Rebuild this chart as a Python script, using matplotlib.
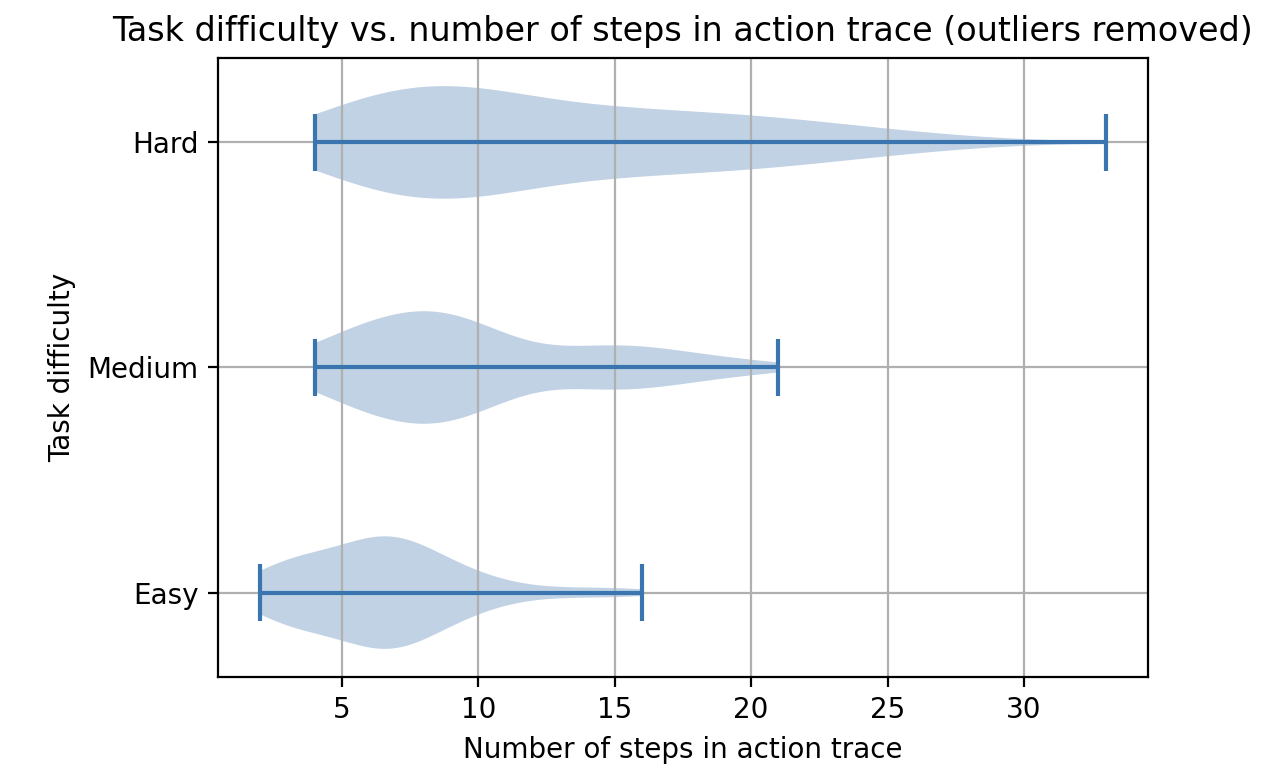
import numpy as np
import matplotlib
matplotlib.use("Agg")
import matplotlib.pyplot as plt

labels = ["Easy", "Medium", "Hard"]

easy_steps = list(range(2, 17))
easy_counts = [5, 8, 8, 8, 13, 13, 10, 6, 4, 2, 1, 1, 1, 1, 1]

medium_steps = list(range(4, 22))
medium_counts = [5, 6, 8, 10, 11, 11, 9, 4, 2, 2, 4, 5, 4, 3, 2, 2, 1, 1]

hard_steps = list(range(4, 34))
hard_counts = [6, 7, 9, 10, 11, 11, 10, 9, 7, 6, 6, 6, 6, 5, 5, 5, 5, 4, 4, 3,
               3, 2, 2, 1, 1, 1, 0, 0, 0, 1]

data = [np.repeat(easy_steps, easy_counts),
        np.repeat(medium_steps, medium_counts),
        np.repeat(hard_steps, hard_counts)]

line_color = "#3a75b0"
body_color = "#306ca8"

fig = plt.figure(figsize=(6.41, 3.87), dpi=200)
ax = fig.add_axes([218/1282, 1 - 677/774, (1148-218)/1282, (677-58)/774])
parts = ax.violinplot(data, vert=False)
for body in parts["bodies"]:
    body.set_facecolor(body_color)
    body.set_edgecolor("none")
    body.set_alpha(0.3)
for key in ("cbars", "cmins", "cmaxes"):
    parts[key].set_color(line_color)
ax.set_yticks([1, 2, 3])
ax.set_yticklabels(labels)
ax.grid(True)
ax.set_title("Task difficulty vs. number of steps in action trace (outliers removed)")
ax.set_xlabel("Number of steps in action trace")
ax.set_ylabel("Task difficulty")
fig.savefig("out.png", dpi=200)
